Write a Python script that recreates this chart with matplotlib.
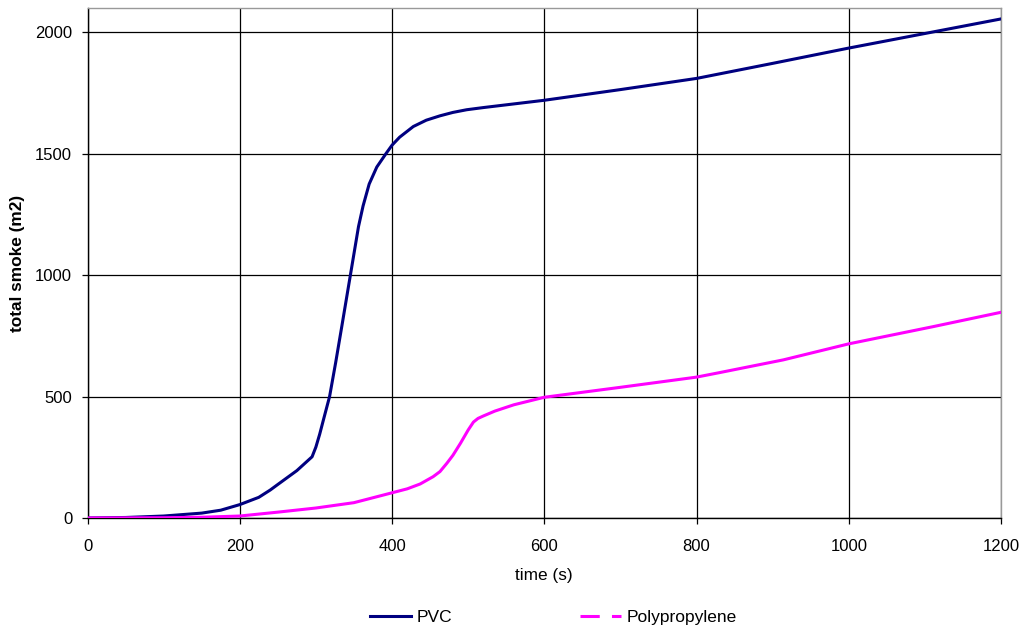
import matplotlib
matplotlib.use("Agg")
import matplotlib.pyplot as plt
from matplotlib.lines import Line2D

plt.rcParams['font.family'] = ['Liberation Sans', 'DejaVu Sans']

# PVC total smoke
pvc_t = [0, 50, 100, 150, 175, 200, 225, 240, 250, 275, 295, 300, 305, 310, 318, 326, 334, 345, 356,
         362, 370, 380, 392, 400, 410, 428, 445, 463, 480, 498, 520, 560, 600, 700, 800, 900, 1000, 1100, 1200]
pvc_v = [0, 2, 8, 20, 32, 55, 85, 115, 138, 195, 252, 292, 345, 405, 500, 640, 788, 994, 1200,
         1285, 1375, 1445, 1500, 1535, 1568, 1612, 1638, 1656, 1670, 1681, 1690, 1705, 1720, 1764, 1810, 1872, 1935, 1995, 2055]

# Polypropylene total smoke
pp_t = [0, 100, 150, 200, 250, 300, 350, 398, 420, 437, 454, 463, 472, 480, 490, 500, 507, 513,
        520, 535, 560, 600, 700, 800, 831, 914, 1000, 1111, 1200]
pp_v = [0, 1, 3, 8, 24, 41, 63, 102, 120, 140, 170, 191, 225, 258, 308, 362, 395, 410,
        420, 440, 466, 497, 538, 580, 599, 651, 717, 788, 847]

x_ticks = [0, 200, 400, 600, 800, 1000, 1200]
y_ticks = [0, 500, 1000, 1500, 2000]

fig = plt.figure(figsize=(10.27, 6.35), dpi=100)
ax = fig.add_axes([0.0852, 0.1843, 0.8895, 0.8031])

ax.plot(pvc_t, pvc_v, color='#000080', lw=2.2, solid_joinstyle='round', zorder=3)
ax.plot(pp_t, pp_v, color='#FF00FF', lw=2.2, solid_joinstyle='round', zorder=3)

ax.set_xlim(0, 1200)
ax.set_ylim(0, 2100)
ax.set_xticks(x_ticks)
ax.set_yticks(y_ticks)
ax.grid(True, color='black', lw=0.9)
ax.set_axisbelow(True)
ax.tick_params(direction='out', length=4, width=0.9, labelsize=12, color='black')
ax.tick_params(axis='x', pad=11)
ax.tick_params(axis='y', pad=7)

for s in ['left', 'bottom']:
    ax.spines[s].set_color('black')
    ax.spines[s].set_linewidth(1.0)
for s in ['top', 'right']:
    ax.spines[s].set_color('#999999')
    ax.spines[s].set_linewidth(1.0)

ax.set_xlabel('time (s)', fontsize=12.4, labelpad=10)
ax.set_ylabel('total smoke (m2)', fontsize=12.4, fontweight='bold', labelpad=7)

handles = [Line2D([], [], color='#000080', lw=2.2),
           Line2D([], [], color='#FF00FF', lw=2.2, dashes=(6.3, 4))]
fig.legend(handles, ['PVC', 'Polypropylene'], loc='center', bbox_to_anchor=(0.539, 0.028),
           ncol=2, frameon=False, fontsize=12.5, handlelength=2.36, handletextpad=0.29,
           columnspacing=7.4)

fig.savefig('out.png', dpi=100)
